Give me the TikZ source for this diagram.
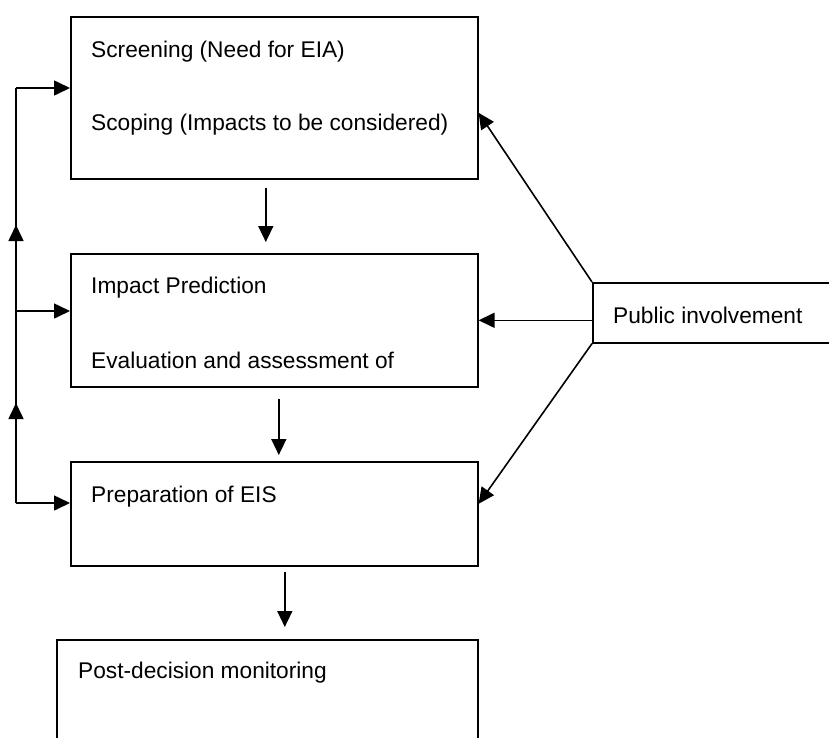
\documentclass[tikz,border=0pt]{standalone}
\usepackage{fontspec}
\setmainfont{Liberation Sans}
\usetikzlibrary{arrows.meta,calc}
\begin{document}
\begin{tikzpicture}[x=1pt,y=-1pt,
  box/.style={draw=black,line width=1.6pt,rectangle,inner sep=0pt,anchor=north west},
  lbl/.style={inner sep=0pt,anchor=base west,font=\fontsize{22.7}{26}\selectfont,text=black},
  arr/.style={line width=1.6pt,-{Triangle[length=16pt,width=15pt]}},
  ln/.style={line width=1.6pt}]
\clip (0,0) rectangle (829,737);
\fill[white] (0,0) rectangle (829,737);
% boxes
\node[box,minimum width=407pt,minimum height=162pt] (b1) at (70,16) {};
\node[box,minimum width=407pt,minimum height=133pt] (b2) at (70,253) {};
\node[box,minimum width=407pt,minimum height=104pt] (b3) at (70,461) {};
\node[box,minimum width=421pt,minimum height=125pt] (b4) at (56,639) {};
\node[box,minimum width=320pt,minimum height=60pt] (pi) at (592,282) {};
% texts
\node[lbl] (t1a) at (91,57) {Screening (Need for EIA)};
\node[lbl] (t1b) at (91,130) {Scoping (Impacts to be considered)};
\node[lbl] (t2a) at (91,293) {Impact Prediction};
\node[lbl] (t2b) at (91,368) {Evaluation and assessment of};
\node[lbl] (t3) at (91,502) {Preparation of EIS};
\node[lbl] (t4) at (78,678) {Post-decision monitoring};
\node[lbl] (tp) at (613,323) {Public involvement};
% main flow
\draw[arr,shorten <=8pt,shorten >=11pt] ([xshift=-8.5pt]b1.south) -- ([xshift=-8.5pt]b1.south |- b2.north);
\draw[arr,shorten <=11pt,shorten >=6pt] ([xshift=4.5pt]b2.south) -- ([xshift=4.5pt]b2.south |- b3.north);
\draw[arr,shorten <=5pt,shorten >=12pt] ([xshift=10.5pt]b3.south) -- ([xshift=10.5pt]b3.south |- b4.north);
% public involvement
\draw[arr] (pi.north west) -- ([yshift=-15pt]b1.east);
\draw[arr] (b2.east -| pi.west) -- (b2.east);
\draw[arr] (pi.south west) -- ([yshift=10pt]b3.east);
% feedback loop
\coordinate (l1) at (16,88);
\coordinate (l2) at (16,311);
\coordinate (l3) at (16,503);
\coordinate (m1) at (16,225);
\coordinate (m2) at (16,403);
\draw[ln] (l3) -- (l1);
\draw[arr] (l1) -- (b1.west |- l1);
\draw[arr] (l2) -- (b2.west |- l2);
\draw[arr] (l3) -- (b3.west |- l3);
\draw[arr] (l2) -- (m1);
\draw[arr] (l3) -- (m2);
\end{tikzpicture}
\end{document}
